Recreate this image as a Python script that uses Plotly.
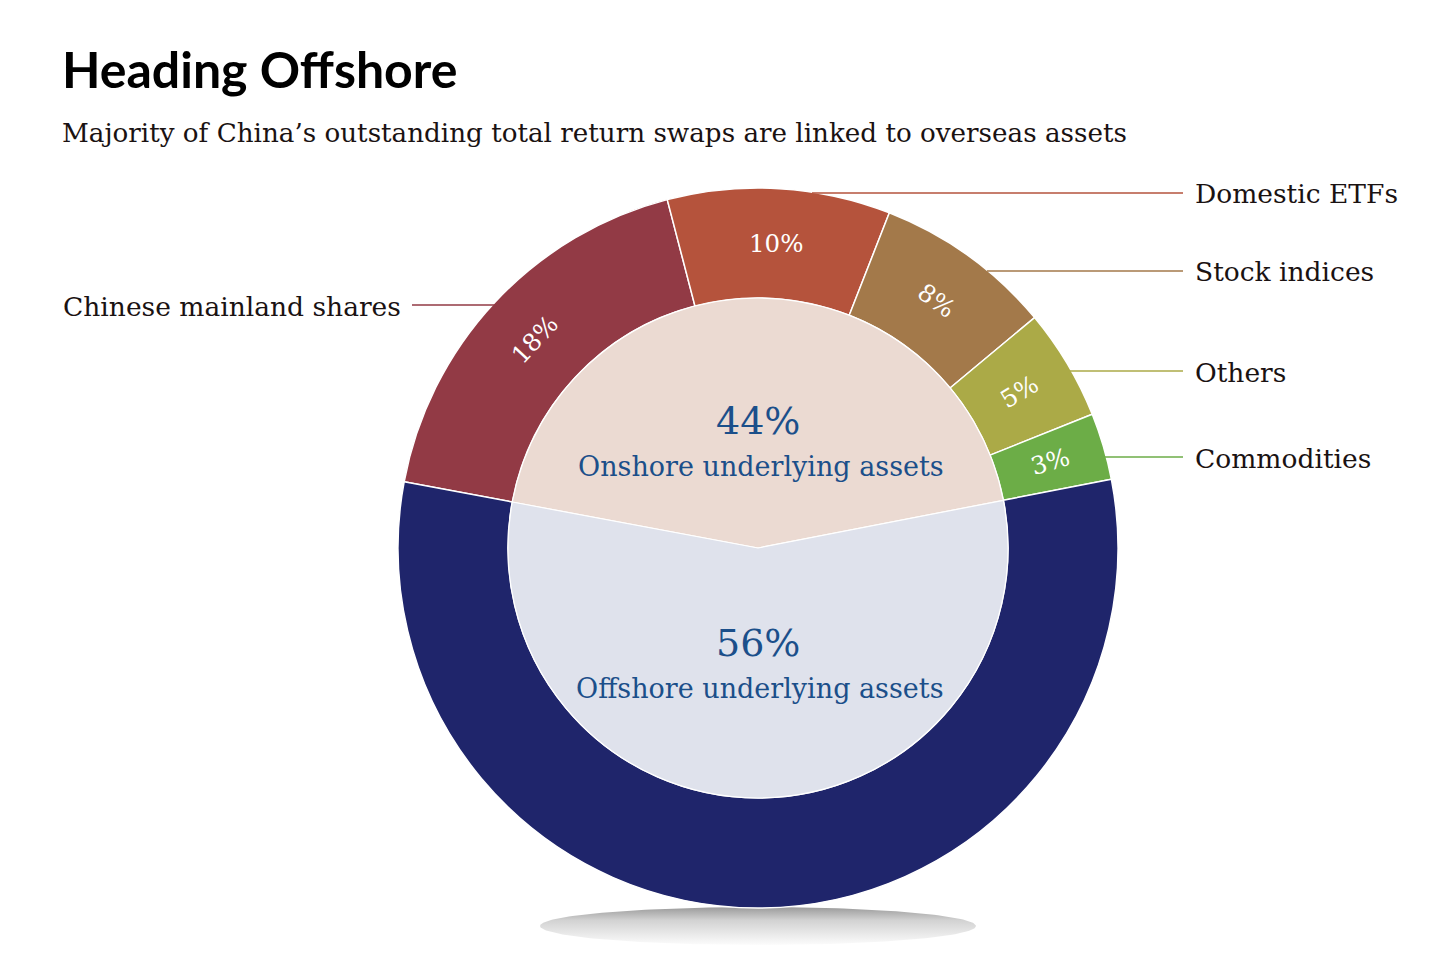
import numpy as np
import plotly.graph_objects as go

# outer ring (clockwise from the left edge of the onshore half)
segments = ['Chinese mainland shares', 'Domestic ETFs', 'Stock indices', 'Others', 'Commodities',
            'Offshore underlying assets']
segment_values = [18, 10, 8, 5, 3, 56]
segment_colors = ['#923a45', '#b5533c', '#a3794a', '#abaa47', '#6cad47', '#1f256b']
label_orient = ['tangential', 'horizontal', 'tangential', 'radial', 'radial', None]

# inner pie
groups = ['Onshore underlying assets', 'Offshore underlying assets']
group_values = [44, 56]
group_colors = ['#ebdad2', '#dfe2ec']

W, H = 1456, 970
OFF = 8  # page margin around the plot div
SERIF = 'DejaVu Serif'
BLUE = '#1b4f8a'
INK = '#1a1212'


def px(x):
    return (x - OFF) / W


def py(y):
    return 1 - (y - OFF) / H


rotation = 280.6
cx, cy, r_out, r_in = 758, 548, 360, 250

fig = go.Figure()

# soft shadow under the ring
t = np.linspace(0, 2 * np.pi, 200)
fig.add_trace(go.Scatter(
    x=758 + 218 * np.cos(t), y=926 + 19 * np.sin(t),
    mode='lines', line=dict(width=0), fill='toself',
    fillgradient=dict(type='vertical', start=907, stop=945,
                      colorscale=[[0, '#9a9a9a'], [0.35, '#d2d2d2'], [1, '#fcfcfc']]),
    hoverinfo='skip', showlegend=False))

fig.add_trace(go.Pie(
    labels=segments, values=segment_values, sort=False, direction='clockwise',
    rotation=rotation, hole=r_in / r_out,
    marker=dict(colors=segment_colors, line=dict(color='white', width=1.5)),
    textinfo='none',
    domain=dict(x=[px(cx - r_out), px(cx + r_out)], y=[py(cy + r_out), py(cy - r_out)]),
    hoverinfo='label+value', showlegend=False))

fig.add_trace(go.Pie(
    labels=groups, values=group_values, sort=False, direction='clockwise',
    rotation=rotation,
    marker=dict(colors=group_colors, line=dict(color='white', width=1.2)),
    textinfo='none',
    domain=dict(x=[px(cx - r_in), px(cx + r_in)], y=[py(cy + r_in), py(cy - r_in)]),
    hoverinfo='label+value', showlegend=False))

annotations = [
    dict(x=px(60), y=py(69), text='<b>Heading Offshore</b>', xanchor='left', yanchor='middle',
         font=dict(family='Lato', size=50, color='#000000', weight=900)),
    dict(x=px(60), y=py(133),
         text='Majority of China’s outstanding total return swaps are linked to overseas assets',
         xanchor='left', yanchor='middle', font=dict(family=SERIF, size=26.2, color=INK)),
    dict(x=px(758), y=py(421), text=f'{group_values[0]}%', xanchor='center', yanchor='middle',
         font=dict(family=SERIF, size=38, color=BLUE)),
    dict(x=px(761), y=py(466), text=groups[0], xanchor='center', yanchor='middle',
         font=dict(family=SERIF, size=27, color=BLUE)),
    dict(x=px(758), y=py(643), text=f'{group_values[1]}%', xanchor='center', yanchor='middle',
         font=dict(family=SERIF, size=38, color=BLUE)),
    dict(x=px(760), y=py(688), text=groups[1], xanchor='center', yanchor='middle',
         font=dict(family=SERIF, size=27, color=BLUE)),
]

# percentage labels inside the ring, placed at each slice's mid angle
total = sum(segment_values)
start = rotation
for v, orient in zip(segment_values, label_orient):
    mid = start + 360 * v / total / 2
    start += 360 * v / total
    if orient is None:
        continue
    a = np.radians(mid)
    r_mid = (r_out + r_in) / 2
    lx, ly = cx + r_mid * np.sin(a), cy - r_mid * np.cos(a)
    m = ((mid + 180) % 360) - 180
    if orient == 'tangential':
        angle = m
    elif orient == 'radial':
        angle = m - 90
    else:
        angle = 0
    annotations.append(dict(x=px(lx), y=py(ly), text=f'{v}%', textangle=angle,
                            xanchor='center', yanchor='middle',
                            font=dict(family=SERIF, size=24.5, color='white')))

# leader lines and outside labels
label_rows = [
    (segments[0], 305, 412, 497, 'right'),
    (segments[1], 193, 812, 1183, 'left'),
    (segments[2], 271, 987, 1183, 'left'),
    (segments[3], 371, 1070, 1183, 'left'),
    (segments[4], 457, 1105, 1183, 'left'),
]
shapes = []
for (name, y, x0, x1, side), color in zip(label_rows, segment_colors):
    shapes.append(dict(type='line', xref='paper', yref='paper', x0=px(x0), x1=px(x1),
                       y0=py(y), y1=py(y), line=dict(color=color, width=1.5)))
    annotations.append(dict(
        x=px(403) if side == 'right' else px(1193), y=py(y + 1), text=name,
        xanchor=side, yanchor='middle', font=dict(family=SERIF, size=26.5, color=INK)))

for a in annotations:
    a.update(xref='paper', yref='paper', showarrow=False)

fig.update_layout(
    width=W, height=H, margin=dict(l=0, r=0, t=0, b=0),
    paper_bgcolor='white', plot_bgcolor='white',
    xaxis=dict(range=[OFF, W + OFF], domain=[0, 1], visible=False, fixedrange=True),
    yaxis=dict(range=[H + OFF, OFF], domain=[0, 1], visible=False, fixedrange=True),
    annotations=annotations, shapes=shapes)

fig.write_html('out.html')
